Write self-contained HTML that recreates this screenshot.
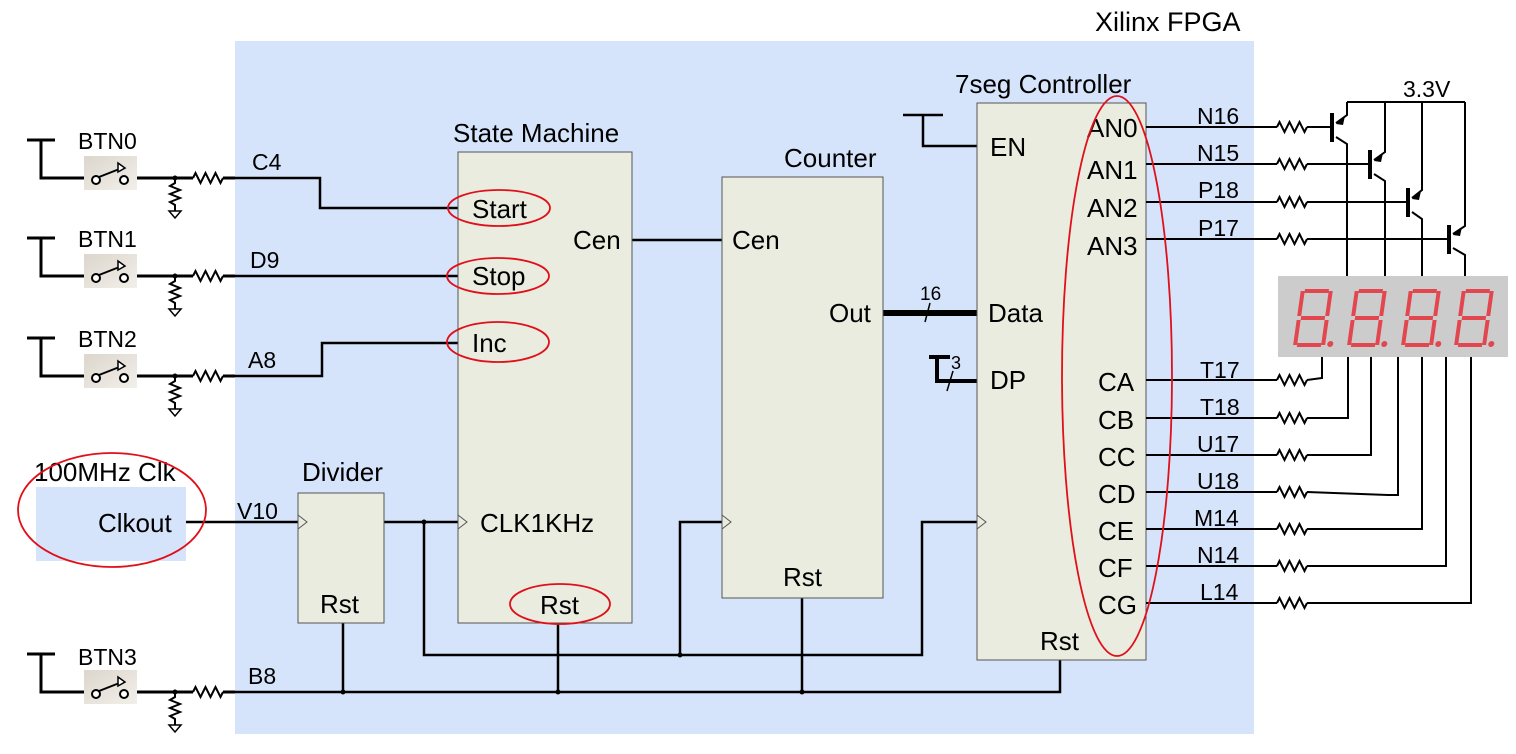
<!DOCTYPE html>
<html><head><meta charset="utf-8"><style>
html,body{margin:0;padding:0;background:#fff;}
svg{display:block;}
text{font-family:"Liberation Sans",Arial,sans-serif;fill:#000;}
</style></head><body>
<svg width="1516" height="754" viewBox="0 0 1516 754" xmlns="http://www.w3.org/2000/svg">
<defs>
<path id="res" d="M0,0 l2.5,-5 l5,10 l5,-10 l5,10 l5,-10 l5,10 l2.5,-5" fill="none" stroke="#000" stroke-width="2"/>
<linearGradient id="sw" x1="0" y1="0" x2="1" y2="1"><stop offset="0" stop-color="#dcd6cc"/><stop offset="1" stop-color="#f2efea"/></linearGradient>
<g id="btn">
  <path d="M27,-38 H55 M41,-38 V0 H84" fill="none" stroke="#000" stroke-width="3"/>
  <rect x="84" y="-22" width="53" height="34" fill="url(#sw)"/>
  <circle cx="96" cy="2" r="4" fill="#fff" stroke="#000" stroke-width="2"/>
  <circle cx="124" cy="2" r="4" fill="#fff" stroke="#000" stroke-width="2"/>
  <path d="M99,-1 L122,-10" stroke="#000" stroke-width="2"/>
  <path d="M118,-15 L125,-10 L118,-6 Z" fill="#fff" stroke="#000" stroke-width="1.5"/>
  <path d="M137,0 H193" stroke="#000" stroke-width="3"/>
  <circle cx="175" cy="0" r="2.5" fill="#000"/>
  <path d="M175,0 v5 l-5,3 l10,4 l-10,4 l10,4 l-10,4 l5,3 v6" fill="none" stroke="#000" stroke-width="2"/>
  <path d="M169,33 H181 L175,40 Z" fill="#fff" stroke="#000" stroke-width="1.5"/>
  <use href="#res" x="193" y="0"/>
  <path d="M223,0 H235" stroke="#000" stroke-width="3"/>
</g>
<g id="dig">
  <rect x="5" y="0" width="24" height="4"/><rect x="5" y="27" width="24" height="4"/><rect x="5" y="54" width="24" height="4"/>
  <rect x="1" y="2" width="4" height="25"/><rect x="1" y="31" width="4" height="25"/>
  <rect x="29" y="2" width="4" height="25"/><rect x="29" y="31" width="4" height="25"/>
  <circle cx="38" cy="55" r="3"/>
</g>
<g id="tri"><path d="M0,-7 L9,0 L0,7" fill="none" stroke="#555" stroke-width="1"/></g>
</defs>

<rect x="235" y="41" width="1019" height="693" fill="#d6e4fb"/>
<text x="1095" y="31" font-size="27">Xilinx FPGA</text>

<use href="#btn" x="0" y="178"/>
<use href="#btn" x="0" y="276"/>
<use href="#btn" x="0" y="376"/>
<use href="#btn" x="0" y="692"/>
<g font-size="23">
<text x="78" y="149">BTN0</text>
<text x="78" y="247">BTN1</text>
<text x="78" y="347">BTN2</text>
<text x="78" y="665">BTN3</text>
<text x="252" y="170">C4</text>
<text x="250" y="268">D9</text>
<text x="248" y="368">A8</text>
<text x="248" y="684">B8</text>
</g>

<g fill="none" stroke="#000" stroke-width="2.5">
<path d="M235,178 H320 V208 H458"/>
<path d="M235,276 H458"/>
<path d="M235,376 H322 V343 H458"/>
<path d="M186,522 H298"/>
<path d="M384,522 H458"/>
<path d="M424,522 V655 H922 V522 H977"/>
<path d="M680,655 V522 H722"/>
<path d="M632,240 H722"/>
<path d="M235,692 H1060 V660"/>
<path d="M343,623 V692"/><path d="M558,623 V692"/><path d="M802,598 V692"/>
<path d="M903,115 H943 M923,115 V146 H977"/>
</g>
<g fill="#000"><circle cx="424" cy="522" r="2.5"/><circle cx="680" cy="655" r="2.5"/><circle cx="343" cy="692" r="2.5"/><circle cx="558" cy="692" r="2.5"/><circle cx="802" cy="692" r="2.5"/></g>
<path d="M883,313 H977" stroke="#000" stroke-width="6"/>
<path d="M930,303 L925,322" stroke="#000" stroke-width="1.5"/>
<text x="920" y="300" font-size="19">16</text>
<path d="M929,357 H950 M937,357 V381 H977" fill="none" stroke="#000" stroke-width="4"/>
<path d="M953,371 L947,391" stroke="#000" stroke-width="1.5"/>
<text x="951" y="369" font-size="18">3</text>

<rect x="36" y="487" width="150" height="74" fill="#d6e4fb"/>
<g font-size="26">
<text x="34" y="481">100MHz Clk</text>
<text x="98" y="532">Clkout</text>
</g>
<text x="237" y="519" font-size="23">V10</text>

<rect x="298" y="493" width="86" height="130" fill="#ebece0" stroke="#555" stroke-width="1"/>
<use href="#tri" x="298" y="522"/>
<rect x="458" y="152" width="174" height="471" fill="#ebece0" stroke="#555" stroke-width="1"/>
<use href="#tri" x="458" y="522"/>
<rect x="722" y="177" width="161" height="421" fill="#ebece0" stroke="#555" stroke-width="1"/>
<use href="#tri" x="722" y="522"/>
<rect x="977" y="103" width="169" height="557" fill="#ebece0" stroke="#555" stroke-width="1"/>
<use href="#tri" x="977" y="522"/>

<g font-size="26">
<text x="302" y="481">Divider</text>
<text x="320" y="613">Rst</text>
<text x="453" y="142">State Machine</text>
<text x="472" y="218">Start</text>
<text x="472" y="285">Stop</text>
<text x="472" y="352">Inc</text>
<text x="573" y="249">Cen</text>
<text x="480" y="532">CLK1KHz</text>
<text x="540" y="614">Rst</text>
<text x="784" y="167">Counter</text>
<text x="732" y="249">Cen</text>
<text x="829" y="322">Out</text>
<text x="783" y="586">Rst</text>
<text x="955" y="93">7seg Controller</text>
<text x="990" y="156">EN</text>
<text x="988" y="322">Data</text>
<text x="990" y="389">DP</text>
<text x="1087" y="137">AN0</text><text x="1087" y="179">AN1</text><text x="1087" y="217">AN2</text><text x="1087" y="255">AN3</text>
<text x="1098" y="391">CA</text><text x="1098" y="429">CB</text><text x="1098" y="466">CC</text><text x="1098" y="503">CD</text>
<text x="1098" y="540">CE</text><text x="1098" y="577">CF</text><text x="1098" y="614">CG</text>
<text x="1040" y="650">Rst</text>
</g>

<g fill="none" stroke="#000" stroke-width="2">
<path d="M1146,127 H1277"/><path d="M1146,164 H1277"/><path d="M1146,202 H1277"/><path d="M1146,239 H1277"/>
<path d="M1307,127 H1332"/><path d="M1307,164 H1370"/><path d="M1307,202 H1408"/><path d="M1307,239 H1449"/>
<path d="M1146,380 H1277"/><path d="M1146,418 H1277"/><path d="M1146,455 H1277"/><path d="M1146,492 H1277"/>
<path d="M1146,529 H1277"/><path d="M1146,566 H1277"/><path d="M1146,603 H1277"/>
<path d="M1307,380 L1322,378 V357"/><path d="M1307,418 H1348 V357"/><path d="M1307,455 H1371 V357"/>
<path d="M1307,492 L1388,495 H1398 V357"/><path d="M1307,529 H1422 V357"/><path d="M1307,566 H1446 V357"/>
<path d="M1307,603 H1471 V357"/>
<path d="M1347,102 H1465"/>
<path d="M1347,102 V115 L1336,123"/><path d="M1336,137 L1347,144 V276"/>
<path d="M1385,102 V152 L1374,160"/><path d="M1374,174 L1385,181 V276"/>
<path d="M1422,102 V190 L1412,198"/><path d="M1412,212 L1422,219 V276"/>
<path d="M1465,102 V226 L1453,234"/><path d="M1453,248 L1465,255 V276"/>
</g>
<g stroke="#000" stroke-width="4"><path d="M1332,113 V142"/><path d="M1370,150 V179"/><path d="M1408,188 V217"/><path d="M1449,225 V254"/></g>
<g fill="#000"><path d="M1336,124 L1345,116 L1343,125 Z"/><path d="M1374,161 L1383,153 L1381,162 Z"/><path d="M1412,199 L1421,191 L1419,200 Z"/><path d="M1453,235 L1462,227 L1460,236 Z"/></g>
<g>
<use href="#res" x="1277" y="127"/><use href="#res" x="1277" y="164"/><use href="#res" x="1277" y="202"/><use href="#res" x="1277" y="239"/>
<use href="#res" x="1277" y="380"/><use href="#res" x="1277" y="418"/><use href="#res" x="1277" y="455"/><use href="#res" x="1277" y="492"/>
<use href="#res" x="1277" y="529"/><use href="#res" x="1277" y="566"/><use href="#res" x="1277" y="603"/>
</g>
<g font-size="23">
<text x="1197" y="124">N16</text><text x="1197" y="161">N15</text><text x="1198" y="198">P18</text><text x="1198" y="236">P17</text>
<text x="1200" y="378">T17</text><text x="1200" y="415">T18</text><text x="1197" y="452">U17</text><text x="1197" y="489">U18</text>
<text x="1194" y="526">M14</text><text x="1197" y="563">N14</text><text x="1200" y="600">L14</text>
<text x="1403" y="97">3.3V</text>
</g>

<rect x="1278" y="276" width="230" height="81" fill="#cccccc"/>
<g fill="#e2474f">
<use href="#dig" transform="translate(1300,289) skewX(-8)"/>
<use href="#dig" transform="translate(1354,289) skewX(-8)"/>
<use href="#dig" transform="translate(1408,289) skewX(-8)"/>
<use href="#dig" transform="translate(1461,289) skewX(-8)"/>
</g>

<g fill="none" stroke="#e0101a" stroke-width="1.8">
<ellipse cx="112" cy="510" rx="94" ry="57"/>
<ellipse cx="499" cy="208" rx="51" ry="18"/>
<ellipse cx="498" cy="276" rx="51" ry="18"/>
<ellipse cx="498" cy="342" rx="51" ry="20"/>
<ellipse cx="560" cy="604" rx="50" ry="20"/>
<ellipse cx="1117" cy="376" rx="55" ry="280"/>
</g>
</svg>
</body></html>
